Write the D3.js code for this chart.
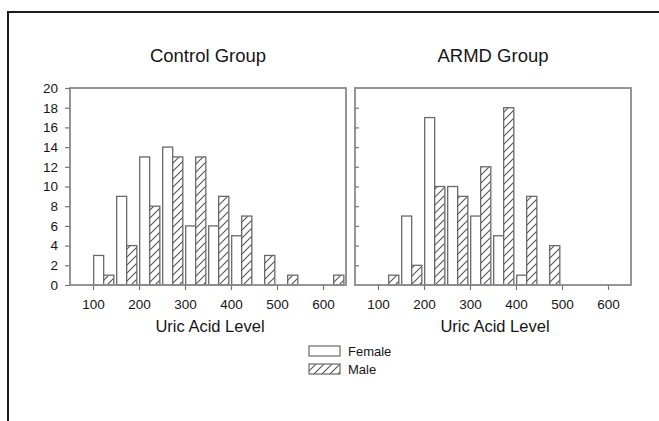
<!DOCTYPE html>
<html>
<head>
<meta charset="utf-8">
<script src="https://cdn.jsdelivr.net/npm/d3@7"></script>
<style>
  body { margin: 0; background: #fff; }
  text { font-family: "Liberation Sans", Arial, sans-serif; fill: #161616; }
</style>
</head>
<body>
<svg width="659" height="421"></svg>
<script>
// bins of the histogram (lower edge of each 50-wide bin)
var binStarts = [100, 150, 200, 250, 300, 350, 400, 450, 500, 550, 600];
var controlFemale = [3, 9, 13, 14, 6, 6, 5, 0, 0, 0, 0];
var controlMale   = [1, 4, 8, 13, 13, 9, 7, 3, 1, 0, 1];
var armdFemale    = [0, 7, 17, 10, 7, 5, 1, 0, 0, 0, 0];
var armdMale      = [1, 2, 10, 9, 12, 18, 9, 4, 0, 0, 0];
var xTicks = [100, 200, 300, 400, 500, 600];
var yTicks = [0, 2, 4, 6, 8, 10, 12, 14, 16, 18, 20];
var panelTitles = ["Control Group", "ARMD Group"];
var legendLabels = ["Female", "Male"];

var svg = d3.select("svg");

// hatch for the male bars
var defs = svg.append("defs");
var pat = defs.append("pattern")
    .attr("id", "hatch")
    .attr("patternUnits", "userSpaceOnUse")
    .attr("width", 8).attr("height", 8);
pat.append("rect").attr("width", 8).attr("height", 8).attr("fill", "#fff");
pat.append("path")
    .attr("d", "M-2,2 L2,-2 M0,8 L8,0 M6,10 L10,6")
    .attr("stroke", "#555").attr("stroke-width", 1.1);

// outer frame (only top and left visible)
svg.append("path")
    .attr("d", "M8,421 L8,12 L659,12")
    .attr("fill", "none")
    .attr("stroke", "#1c1c1c")
    .attr("stroke-width", 2);

var plotTop = 88, plotBottom = 285;
var panels = [
    {left: 70, right: 346, female: controlFemale, male: controlMale, labels: true},
    {left: 355, right: 631, female: armdFemale, male: armdMale, labels: false}
];

var y = d3.scaleLinear().domain([0, 20]).range([plotBottom, plotTop]);

panels.forEach(function(p, i) {
    var x = d3.scaleLinear().domain([50, 650]).range([p.left, p.right]);
    var g = svg.append("g");

    // bars
    var rows = binStarts.map(function(b, j) {
        return {b: b, f: p.female[j], m: p.male[j]};
    });
    g.selectAll(".fbar")
        .data(rows.filter(function(d) { return d.f > 0; }))
        .enter().append("rect")
        .attr("x", function(d) { return x(d.b + 1.5); })
        .attr("width", function(d) { return x(d.b + 23.2) - x(d.b + 1.5); })
        .attr("y", function(d) { return y(d.f); })
        .attr("height", function(d) { return y(0) - y(d.f); })
        .attr("fill", "#fff")
        .attr("stroke", "#6a6a6a")
        .attr("stroke-width", 1.3);
    g.selectAll(".mbar")
        .data(rows.filter(function(d) { return d.m > 0; }))
        .enter().append("rect")
        .attr("x", function(d) { return x(d.b + 23.2); })
        .attr("width", function(d) { return x(d.b + 45.3) - x(d.b + 23.2); })
        .attr("y", function(d) { return y(d.m); })
        .attr("height", function(d) { return y(0) - y(d.m); })
        .attr("fill", "url(#hatch)")
        .attr("stroke", "#6a6a6a")
        .attr("stroke-width", 1.3);

    // plot frame
    g.append("rect")
        .attr("x", p.left).attr("y", plotTop)
        .attr("width", p.right - p.left).attr("height", plotBottom - plotTop)
        .attr("fill", "none")
        .attr("stroke", "#8a8a8a")
        .attr("stroke-width", 1.8);

    // x axis
    var xa = g.append("g")
        .attr("transform", "translate(0," + plotBottom + ")")
        .call(d3.axisBottom(x).tickValues(xTicks).tickSize(5).tickPadding(9));
    xa.select(".domain").remove();
    xa.selectAll("line").attr("stroke", "#777").attr("stroke-width", 1.2);
    xa.selectAll("text").attr("font-size", "13.5px").attr("fill", "#161616")
        .attr("font-family", "Liberation Sans, Arial, sans-serif");

    // y axis: labelled on the left panel, inward ticks on the right one
    var ya;
    if (p.labels) {
        ya = g.append("g")
            .attr("transform", "translate(" + p.left + ",0)")
            .call(d3.axisLeft(y).tickValues(yTicks).tickSize(5).tickPadding(7));
    } else {
        ya = g.append("g")
            .attr("transform", "translate(" + p.left + ",0)")
            .call(d3.axisRight(y).tickValues(yTicks.slice(1, -1)).tickSize(4).tickFormat(""));
    }
    ya.select(".domain").remove();
    ya.selectAll("line").attr("stroke", "#777").attr("stroke-width", 1.2);
    ya.selectAll("text").attr("font-size", "13.5px").attr("fill", "#161616")
        .attr("font-family", "Liberation Sans, Arial, sans-serif");

    // titles
    g.append("text")
        .attr("x", (p.left + p.right) / 2)
        .attr("y", 62)
        .attr("text-anchor", "middle")
        .attr("font-size", "18.5px")
        .text(panelTitles[i]);
    g.append("text")
        .attr("x", (p.left + p.right) / 2 + 2)
        .attr("y", 331.5)
        .attr("text-anchor", "middle")
        .attr("font-size", "16.5px")
        .text("Uric Acid Level");
});

// legend
var lg = svg.append("g");
legendLabels.forEach(function(l, i) {
    lg.append("rect")
        .attr("x", 309).attr("y", 346 + i * 18)
        .attr("width", 31).attr("height", 10)
        .attr("fill", i === 0 ? "#fff" : "url(#hatch)")
        .attr("stroke", "#6a6a6a")
        .attr("stroke-width", 1.2);
    lg.append("text")
        .attr("x", 348).attr("y", 355.5 + i * 18)
        .attr("font-size", "13px")
        .text(l);
});
</script>
</body>
</html>
